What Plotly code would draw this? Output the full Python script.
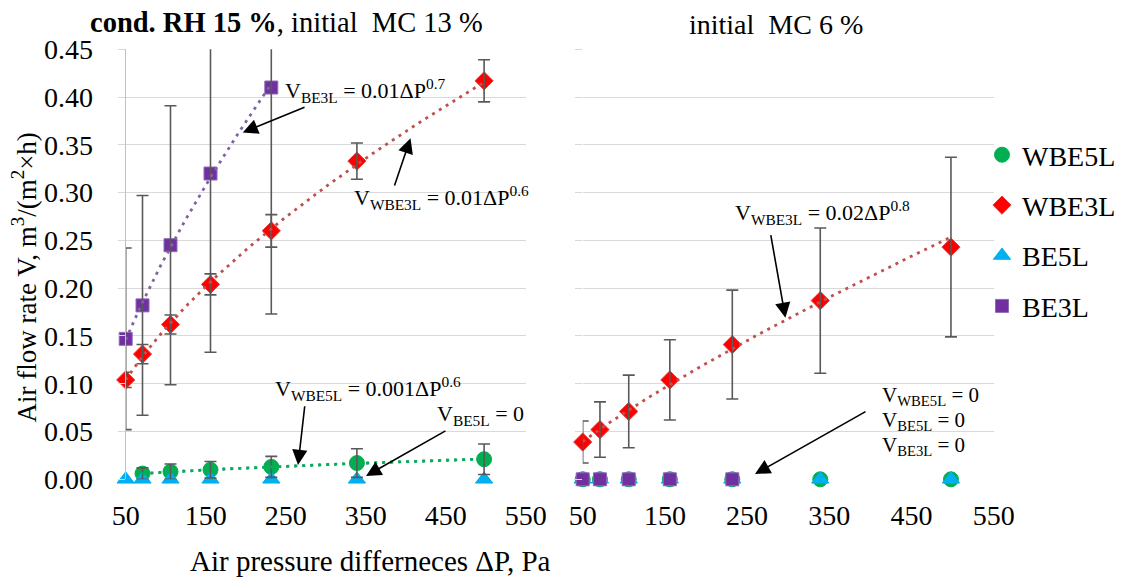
import numpy as np
import plotly.graph_objects as go

# ---------------- data ----------------
pressure = [50, 71, 106, 156, 232, 339, 498]
x_ticks = [50, 150, 250, 350, 450, 550]

# left panel: cond. RH 15 %, initial MC 13 %
wbe5l_x = [71, 106, 156, 232, 339, 498]
wbe5l_y = [0.006, 0.008, 0.010, 0.013, 0.017, 0.021]
wbe5l_err = [0.006, 0.008, 0.0087, 0.011, 0.015, 0.016]

wbe3l_y = [0.104, 0.131, 0.162, 0.204, 0.260, 0.333, 0.417]
wbe3l_err = [0.008, 0.010, 0.010, 0.011, 0.017, 0.019, 0.022]

be5l_y = [0, 0, 0, 0, 0, 0, 0]

be3l_x = [50, 71, 106, 156, 232]
be3l_y = [0.147, 0.182, 0.245, 0.320, 0.410]
be3l_err = [0.095, 0.115, 0.146, 0.187, 0.237]

# right panel: initial MC 6 %
wbe3l_r_y = [0.039, 0.052, 0.071, 0.104, 0.141, 0.187, 0.243]
wbe3l_r_err = [0.022, 0.029, 0.038, 0.042, 0.057, 0.076, 0.094]
wbe5l_r_y = [0, 0, 0, 0, 0, 0, 0]
be5l_r_y = [0, 0, 0, 0, 0, 0, 0]
be3l_r_x = [50, 71, 106, 156, 232]
be3l_r_y = [0, 0, 0, 0, 0]

# ---------------- style ----------------
FONT = "Liberation Serif"
C_WBE5L = "#00B050"
C_WBE3L = "#FF0000"
C_BE5L = "#00B0F0"
C_BE3L = "#7030A0"
ERR_C = "#595959"
GRID = "#d9d9d9"

W, H = 1123, 577
def px_x(p):
    return p / W
def px_y(p):
    return 1 - p / H

fig = go.Figure()


def power_fit(xs, ys):
    b, ln_a = np.polyfit(np.log(xs), np.log(ys), 1)
    xx = np.linspace(min(xs), max(xs), 120)
    return xx, np.exp(ln_a) * xx ** b


def markers(x, y, name, color, symbol, size, xa, ya, show, line_color=None):
    fig.add_trace(go.Scatter(
        x=x, y=y, mode="markers", name=name, legendgroup=name,
        showlegend=show, cliponaxis=False, xaxis=xa, yaxis=ya,
        marker=dict(color=color, symbol=symbol, size=size,
                    line=dict(color=line_color or color, width=1)),
        hoverinfo="skip"))


def errbars(x, y, err, xa, ya):
    fig.add_trace(go.Scatter(
        x=x, y=y, mode="markers", showlegend=False, cliponaxis=True,
        xaxis=xa, yaxis=ya,
        marker=dict(size=1, color="rgba(0,0,0,0)"),
        error_y=dict(type="data", array=err, visible=True, color=ERR_C,
                     thickness=1.6, width=6),
        hoverinfo="skip"))


def trend(x, y, color, xa, ya, dash="3px,5px", width=2.8):
    xx, yy = power_fit(x, y)
    fig.add_trace(go.Scatter(
        x=xx, y=yy, mode="lines", showlegend=False, xaxis=xa, yaxis=ya,
        line=dict(color=color, dash=dash, width=width), hoverinfo="skip"))


# ---- left panel ----
markers(wbe5l_x, wbe5l_y, "WBE5L", C_WBE5L, "circle", 15, "x", "y", True)
markers(pressure, wbe3l_y, "WBE3L", C_WBE3L, "diamond", 14, "x", "y", True, "#E04040")
markers(pressure, be5l_y, "BE5L", C_BE5L, "triangle-up", 15, "x", "y", True)
markers(be3l_x, be3l_y, "BE3L", C_BE3L, "square", 13, "x", "y", True, "#8E6BB8")

errbars(wbe5l_x, wbe5l_y, wbe5l_err, "x", "y")
errbars(pressure, wbe3l_y, wbe3l_err, "x", "y")
errbars(be3l_x, be3l_y, be3l_err, "x", "y")

trend(be3l_x, be3l_y, "#8064A2", "x", "y")
trend(pressure, wbe3l_y, "#C0504D", "x", "y")
trend(wbe5l_x, wbe5l_y, "#4F81BD", "x", "y", dash="2px,6px")
trend(wbe5l_x, wbe5l_y, C_WBE5L, "x", "y", dash="3px,5px")

# ---- right panel ----
markers(pressure, wbe5l_r_y, "WBE5L", C_WBE5L, "circle", 15, "x2", "y2", False)
markers(pressure, wbe3l_r_y, "WBE3L", C_WBE3L, "diamond", 14, "x2", "y2", False, "#E04040")
markers(pressure, be5l_r_y, "BE5L", C_BE5L, "triangle-up", 15, "x2", "y2", False)
markers(be3l_r_x, be3l_r_y, "BE3L", C_BE3L, "square", 13, "x2", "y2", False, "#8E6BB8")

errbars(pressure, wbe3l_r_y, wbe3l_r_err, "x2", "y2")
trend(pressure, wbe3l_r_y, "#C0504D", "x2", "y2")

# ---------------- axes ----------------
tickfont = dict(family=FONT, size=28, color="black")
common_x = dict(range=[50, 550], tickvals=x_ticks, showgrid=False, zeroline=False,
                ticks="", tickfont=tickfont, ticklabelstandoff=17, fixedrange=True,
                automargin=False)
common_y = dict(range=[0, 0.45], dtick=0.05, tick0=0, tickformat=".2f",
                showgrid=True, gridcolor=GRID, gridwidth=1.3, zeroline=False,
                ticks="outside", ticklen=7, tickcolor=GRID, tickwidth=1.3,
                tickfont=tickfont, fixedrange=True, automargin=False)

fig.update_layout(
    xaxis=dict(domain=[px_x(125.7), px_x(525.7)], anchor="y", **common_x),
    yaxis=dict(domain=[px_y(479.3), px_y(49.3)], anchor="x",
               showline=True, linecolor="#bfbfbf", linewidth=1.3,
               ticklabelstandoff=19, **common_y),
    xaxis2=dict(domain=[px_x(582.7), px_x(993.7)], anchor="y2", **common_x),
    yaxis2=dict(domain=[px_y(479.3), px_y(49.3)], anchor="x2",
                showline=False, showticklabels=False, **common_y),
)

# ---------------- annotations ----------------
ann = []


def label(text, x, y, xref, yref, size=22):
    ann.append(dict(text=text, x=x, y=y, xref=xref, yref=yref, showarrow=False,
                    xanchor="left", yanchor="middle",
                    font=dict(family=FONT, size=size, color="black")))


def arrow(x, y, ax, ay, xref, yref):
    ann.append(dict(text="", x=x, y=y, ax=ax, ay=ay, xref=xref, yref=yref,
                    axref=xref, ayref=yref, showarrow=True, arrowhead=2,
                    arrowsize=1.9, arrowwidth=1.6, arrowcolor="black",
                    standoff=0, startstandoff=0))


label("V<sub>BE3L</sub> = 0.01ΔP<sup>0.7</sup>", 246.6, 0.407, "x", "y")
arrow(196.3, 0.363, 275.4, 0.390, "x", "y")
label("V<sub>WBE3L</sub> = 0.01ΔP<sup>0.6</sup>", 332.9, 0.2954, "x", "y")
arrow(406, 0.357, 385.4, 0.306, "x", "y")
label("V<sub>WBE5L</sub> = 0.001ΔP<sup>0.6</sup>", 234, 0.0955, "x", "y")
arrow(265.4, 0.015, 274, 0.078, "x", "y")
label("V<sub>BE5L</sub> = 0", 436.6, 0.0673, "x", "y")
arrow(350.4, 0.0035, 451.6, 0.0516, "x", "y")

label("V<sub>WBE3L</sub> = 0.02ΔP<sup>0.8</sup>", 232.4, 0.2797, "x2", "y2")
arrow(296.6, 0.169, 278.5, 0.257, "x2", "y2")
label("V<sub>WBE5L</sub> = 0", 411.7, 0.0875, "x2", "y2", 21)
label("V<sub>BE5L</sub> = 0", 411.7, 0.061, "x2", "y2", 21)
label("V<sub>BE3L</sub> = 0", 411.7, 0.0345, "x2", "y2", 21)
arrow(259.6, 0.0055, 395.9, 0.0717, "x2", "y2")

# titles
ann.append(dict(text="<b>cond. RH 15 %</b>, initial  MC 13 %", x=px_x(286), y=px_y(22),
                xref="paper", yref="paper", showarrow=False, xanchor="center",
                yanchor="middle", font=dict(family=FONT, size=28.5, color="black")))
ann.append(dict(text="initial  MC 6 %", x=px_x(776), y=px_y(25),
                xref="paper", yref="paper", showarrow=False, xanchor="center",
                yanchor="middle", font=dict(family=FONT, size=28, color="black")))
ann.append(dict(text="Air pressure differneces ΔP, Pa", x=px_x(370.5), y=px_y(561),
                xref="paper", yref="paper", showarrow=False, xanchor="center",
                yanchor="middle", font=dict(family=FONT, size=29, color="black")))
ann.append(dict(text="Air flow rate V, m<sup>3</sup>/(m<sup>2</sup>×h)", x=px_x(25),
                y=px_y(277.5), xref="paper", yref="paper", showarrow=False,
                textangle=-90, xanchor="center", yanchor="middle",
                font=dict(family=FONT, size=27, color="black")))

fig.update_layout(
    annotations=ann,
    width=W, height=H, autosize=False,
    margin=dict(l=0, r=0, t=0, b=0, pad=0),
    paper_bgcolor="white", plot_bgcolor="white",
    showlegend=True,
    legend=dict(x=px_x(982), y=px_y(130), xanchor="left", yanchor="top",
                font=dict(family=FONT, size=28, color="black"),
                traceorder="grouped", tracegroupgap=11,
                bgcolor="rgba(0,0,0,0)", itemwidth=30),
    font=dict(family=FONT, color="black"),
)

fig.write_html(
    "out.html",
    config={"displayModeBar": False},
    post_script="document.body.style.margin='0px';document.body.style.overflow='hidden';",
)
